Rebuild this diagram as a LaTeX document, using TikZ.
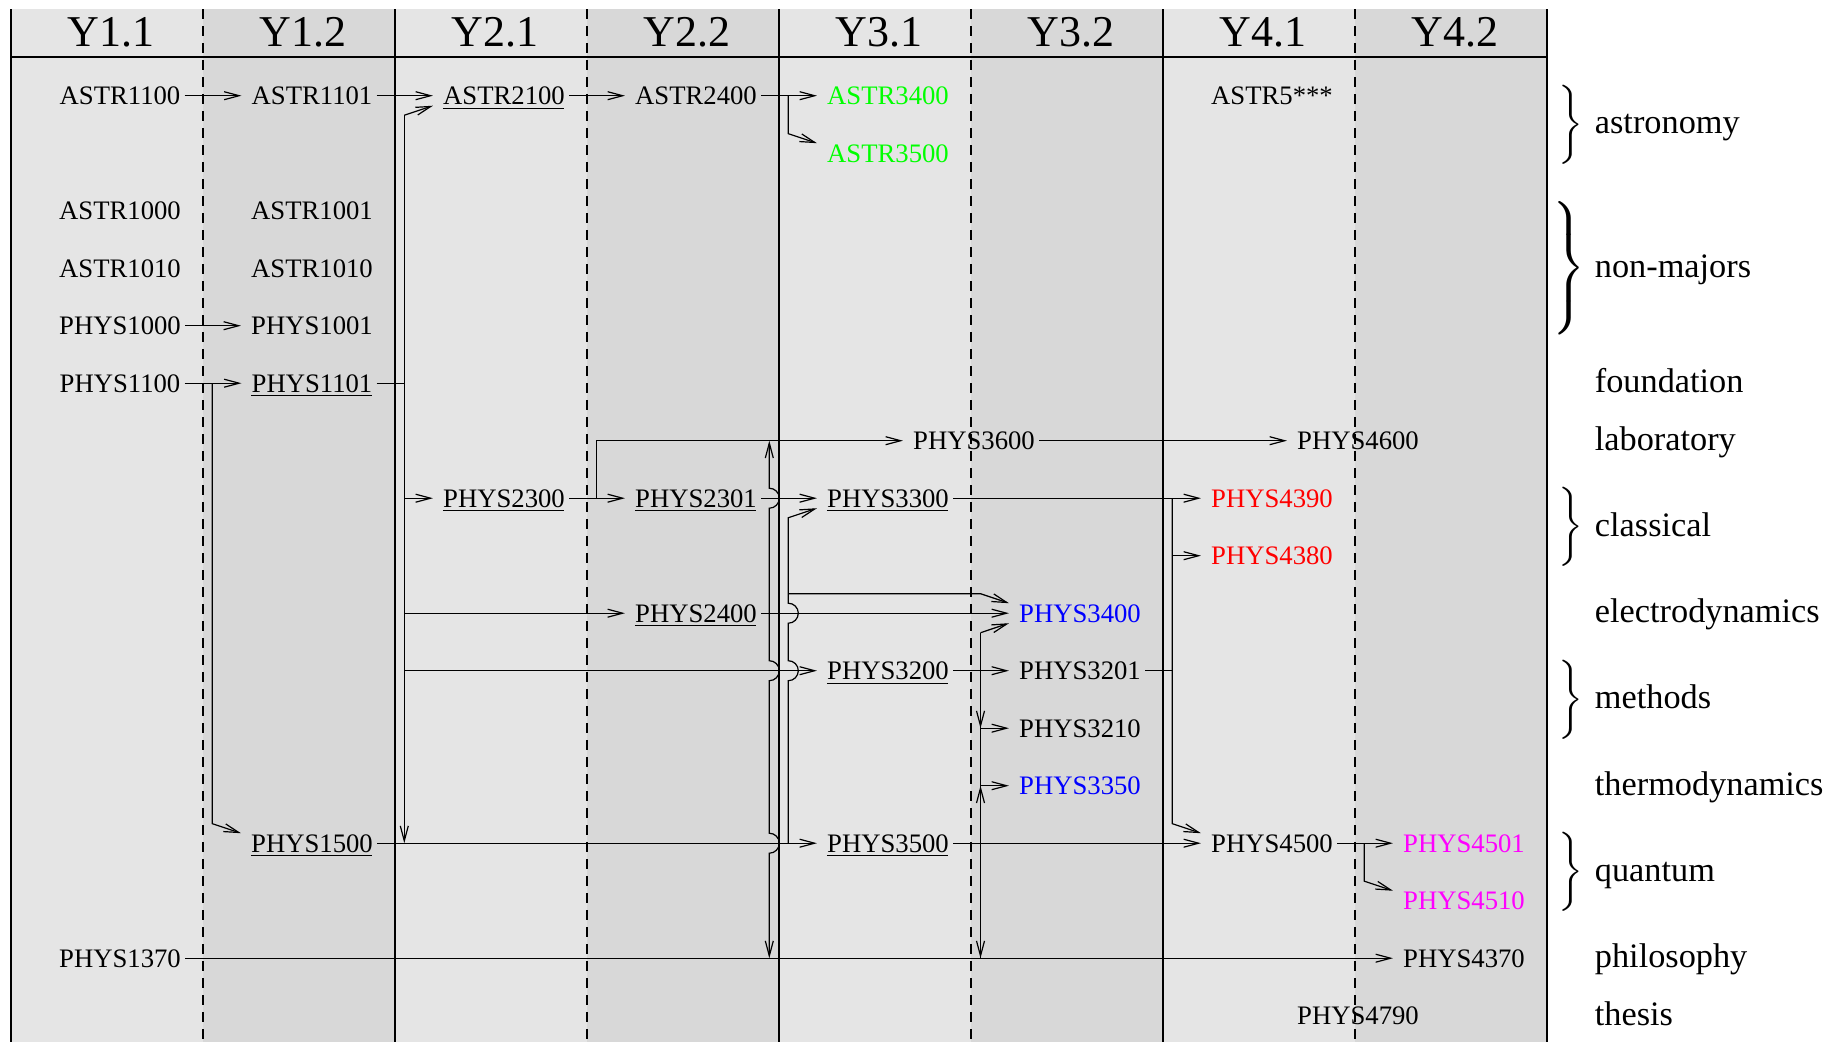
\documentclass[tikz,border=0pt]{standalone}
\usepackage{graphicx}
\usepackage{fontspec}
\setmainfont{Liberation Serif}
\usetikzlibrary{arrows.meta,calc}
\definecolor{colL}{RGB}{229,229,229}
\definecolor{colD}{RGB}{216,216,216}
\definecolor{cgreen}{RGB}{0,255,0}
\definecolor{cred}{RGB}{255,0,0}
\definecolor{cblue}{RGB}{0,0,255}
\definecolor{cmag}{RGB}{255,0,255}
\begin{document}
\begin{tikzpicture}[x=1pt,y=-1pt,
  course/.style={font=\fontsize{26.7}{30}\selectfont, inner xsep=4pt, inner ysep=0pt, text height=17.7pt, text depth=0pt},
  yearhdr/.style={font=\fontsize{44}{50}\selectfont, anchor=base, inner sep=0pt},
  lab/.style={font=\fontsize{34.3}{40}\selectfont, anchor=base west, inner sep=0pt},
  brc/.style={anchor=west, inner sep=0pt},
  conn/.style={line width=1.2pt, draw=black},
  arr/.style={conn, -{Straight Barb[length=15pt,width=8pt]}},
  ulin/.style={line width=1.3pt},
  solidsep/.style={line width=1.8pt},
  dashsep/.style={line width=1.8pt, dash pattern=on 10pt off 7pt},
]
\useasboundingbox (0,0) rectangle (1843,1042);
\fill[white] (0,0) rectangle (1843,1042);
% columns
\fill[colL] (11,9) rectangle (203,1042);
\fill[colD] (203,9) rectangle (395,1042);
\fill[colL] (395,9) rectangle (587,1042);
\fill[colD] (587,9) rectangle (779,1042);
\fill[colL] (779,9) rectangle (971,1042);
\fill[colD] (971,9) rectangle (1163,1042);
\fill[colL] (1163,9) rectangle (1355,1042);
\fill[colD] (1355,9) rectangle (1547,1042);
\foreach \x in {11,395,779,1163,1547} \draw[solidsep] (\x,9) -- (\x,1042);
\foreach \x in {203,587,971,1355} \draw[dashsep] (\x,9) -- (\x,1042);
\draw[solidsep] (11,56.7) -- (1547,56.7);
% headers
\node[yearhdr] (h11) at (111,46.7) {Y1.1};
\node[yearhdr] (h12) at (303,46.7) {Y1.2};
\node[yearhdr] (h21) at (495,46.7) {Y2.1};
\node[yearhdr] (h22) at (687,46.7) {Y2.2};
\node[yearhdr] (h31) at (879,46.7) {Y3.1};
\node[yearhdr] (h32) at (1071,46.7) {Y3.2};
\node[yearhdr] (h41) at (1263,46.7) {Y4.1};
\node[yearhdr] (h42) at (1455,46.7) {Y4.2};
% courses
\node[course] (a1100) at (120,95.7) {ASTR1100};
\node[course] (a1101) at (312,95.7) {ASTR1101};
\node[course] (a2100) at (504,95.7) {ASTR2100};
\node[course] (a2400) at (696,95.7) {ASTR2400};
\node[course,text=cgreen] (a3400) at (888,95.7) {ASTR3400};
\node[course] (a5xxx) at (1272,95.7) {ASTR5***};
\node[course,text=cgreen] (a3500) at (888,153.2) {ASTR3500};
\node[course] (a1000) at (120,210.7) {ASTR1000};
\node[course] (a1001) at (312,210.7) {ASTR1001};
\node[course] (a1010) at (120,268.2) {ASTR1010};
\node[course] (a1010b) at (312,268.2) {ASTR1010};
\node[course] (p1000) at (120,325.7) {PHYS1000};
\node[course] (p1001) at (312,325.7) {PHYS1001};
\node[course] (p1100) at (120,383.2) {PHYS1100};
\node[course] (p1101) at (312,383.2) {PHYS1101};
\node[course] (p3600) at (974,440.7) {PHYS3600};
\node[course] (p4600) at (1358,440.7) {PHYS4600};
\node[course] (p2300) at (504,498.2) {PHYS2300};
\node[course] (p2301) at (696,498.2) {PHYS2301};
\node[course] (p3300) at (888,498.2) {PHYS3300};
\node[course,text=cred] (p4390) at (1272,498.2) {PHYS4390};
\node[course,text=cred] (p4380) at (1272,555.7) {PHYS4380};
\node[course] (p2400) at (696,613.2) {PHYS2400};
\node[course,text=cblue] (p3400) at (1080,613.2) {PHYS3400};
\node[course] (p3200) at (888,670.7) {PHYS3200};
\node[course] (p3201) at (1080,670.7) {PHYS3201};
\node[course] (p3210) at (1080,728.2) {PHYS3210};
\node[course,text=cblue] (p3350) at (1080,785.7) {PHYS3350};
\node[course] (p1500) at (312,843.2) {PHYS1500};
\node[course] (p3500) at (888,843.2) {PHYS3500};
\node[course] (p4500) at (1272,843.2) {PHYS4500};
\node[course,text=cmag] (p4501) at (1464,843.2) {PHYS4501};
\node[course,text=cmag] (p4510) at (1464,900.7) {PHYS4510};
\node[course] (p1370) at (120,958.2) {PHYS1370};
\node[course] (p4370) at (1464,958.2) {PHYS4370};
\node[course] (p4790) at (1358,1015.7) {PHYS4790};
% underlines
\foreach \n in {a2100,p1101,p2300,p2301,p2400,p3200,p3300,p1500,p3500}
  \draw[ulin] ([xshift=4pt,yshift=-3.5pt]\n.south west) -- ([xshift=-5pt,yshift=-3.5pt]\n.south east);
% helper coordinates
\foreach \n in {a1101,a2100,a2400,a3400,a3500,p1001,p1101,p1500,p2300,p2301,p2400,p3200,p3201,p3210,p3300,p3350,p3400,p3500,p3600,p4370,p4380,p4390,p4500,p4501,p4510,p4600} {
  \coordinate (\n-t) at ($(\n.west)+(-6,0)$);
  \coordinate (\n-u) at ($(\n.west)+(-6,-10)$);
  \coordinate (\n-d) at ($(\n.west)+(-6,10)$);
  \coordinate (\n-cu) at ($(\n.west)+(0,-19.5)$);
  \coordinate (\n-cd) at ($(\n.west)+(0,19.5)$);
}
\coordinate (L1) at (212.3,0);
\coordinate (L2) at (404.3,0);
\coordinate (L3) at (596.3,0);
\coordinate (L4) at (788.3,0);
\coordinate (L5) at (980.5,0);
\coordinate (L6) at (1172.3,0);
\coordinate (L7) at (1364.3,0);
\coordinate (LH) at (769.3,0);
% connectors
\draw[arr] (a1100.east) -- (a1101-t);
\draw[arr] (a1101.east) -- (a2100-t);
\draw[arr] (a2100.east) -- (a2400-t);
\draw[arr] (a2400.east) -- (a3400-t);
\draw[arr] (a2400.east -| L4) -- (L4 |- a3500-cu) -- (a3500-u);
\draw[arr] (p1000.east) -- (p1001-t);
\draw[arr] (p1100.east) -- (p1101-t);
\draw[arr] (p1100.east -| L1) -- (L1 |- p1500-cu) -- (p1500-u);
\draw[conn] (p1101.east) -- (p1101.east -| L2);
\draw[arr] (L2 |- a2100-cd) -- (a2100-d);
\draw[arr] (L2 |- a2100-cd) -- (L2 |- p1500.east);
\draw[arr] (L2 |- p2300.west) -- (p2300-t);
\draw[arr] (L2 |- p2400.west) -- (p2400-t);
\draw[arr] (L2 |- p3200.west) -- (p3200-t);
\draw[arr] (p1500.east) -- (p3500-t);
\draw[arr] (p2300.east) -- (p2301-t);
\draw[arr] (p2300.east -| L3) -- (L3 |- p3600.west) -- (p3600-t);
\draw[arr] (p3600.east) -- (p4600-t);
\draw[arr] (p2301.east) -- (p3300-t);
\draw[arr] (p2400.east) -- (p3400-t);
\draw[arr] (LH |- p2400.east) -- ($(LH |- p2301.west)+(0,10)$) arc[start angle=90,end angle=-90,radius=10] -- (LH |- p3600.west);
\draw[arr] (LH |- p2400.east) -- ($(LH |- p3200.west)+(0,-10)$) arc[start angle=-90,end angle=90,radius=10] -- ($(LH |- p3500.west)+(0,-10)$) arc[start angle=-90,end angle=90,radius=10] -- (LH |- p1370.east);
\draw[arr] (L4 |- p1500.east) -- ($(L4 |- p3200.west)+(0,10)$) arc[start angle=90,end angle=-90,radius=10] -- ($(L4 |- p2400.west)+(0,10)$) arc[start angle=90,end angle=-90,radius=10] -- (L4 |- p3300-cd) -- (p3300-d);
\draw[arr] (L4 |- p3400-cu) -- (L5 |- p3400-cu) -- (p3400-u);
\draw[arr] (L5 |- p3400-cd) -- (p3400-d);
\draw[conn] (L5 |- p3400-cd) -- (L5 |- p1370.east);
\draw[arr] (L5 |- p3200.west) -- (L5 |- p3210.west);
\draw[arr] (L5 |- p3210.west) -- (p3210-t);
\draw[arr] (L5 |- p3500.west) -- (L5 |- p3350.west);
\draw[arr] (L5 |- p3350.west) -- (p3350-t);
\draw[arr] (L5 |- p3500.west) -- (L5 |- p1370.east);
\draw[arr] (p3200.east) -- (p3201-t);
\draw[conn] (p3201.east) -- (L6 |- p3201.east);
\draw[arr] (p3300.east) -- (p4390-t);
\draw[arr] (L6 |- p3300.east) -- (L6 |- p4500-cu) -- (p4500-u);
\draw[arr] (L6 |- p4380.west) -- (p4380-t);
\draw[arr] (p3500.east) -- (p4500-t);
\draw[arr] (p4500.east) -- (p4501-t);
\draw[arr] (L7 |- p4500.east) -- (L7 |- p4510-cu) -- (p4510-u);
\draw[arr] (p1370.east) -- (p4370-t);
% braces
\node[brc] (bAst) at (1558,124.45) {\scalebox{3.3}{$\bigg\}$}};
\node[brc] (bNon) at (1548,268.2) {\scalebox{3.72}{$\left.\vcenter{\hbox{\rule{0pt}{34pt}}}\right\}$}};
\node[brc] (bCla) at (1558,526.95) {\scalebox{3.3}{$\bigg\}$}};
\node[brc] (bMet) at (1558,699.45) {\scalebox{3.3}{$\bigg\}$}};
\node[brc] (bQua) at (1558,871.95) {\scalebox{3.3}{$\bigg\}$}};
% labels
\node[lab] (tAst) at (1594.7,133.75) {astronomy};
\node[lab] (tNon) at (1594.7,277.5) {non-majors};
\node[lab] (tFou) at (1594.7,392.5) {foundation};
\node[lab] (tLab) at (1594.7,450) {laboratory};
\node[lab] (tCla) at (1594.7,536.25) {classical};
\node[lab] (tEle) at (1594.7,622.5) {electrodynamics};
\node[lab] (tMet) at (1594.7,708.75) {methods};
\node[lab] (tThe) at (1594.7,795) {thermodynamics};
\node[lab] (tQua) at (1594.7,881.25) {quantum};
\node[lab] (tPhi) at (1594.7,967.5) {philosophy};
\node[lab] (tThs) at (1594.7,1025) {thesis};
\end{tikzpicture}
\end{document}
